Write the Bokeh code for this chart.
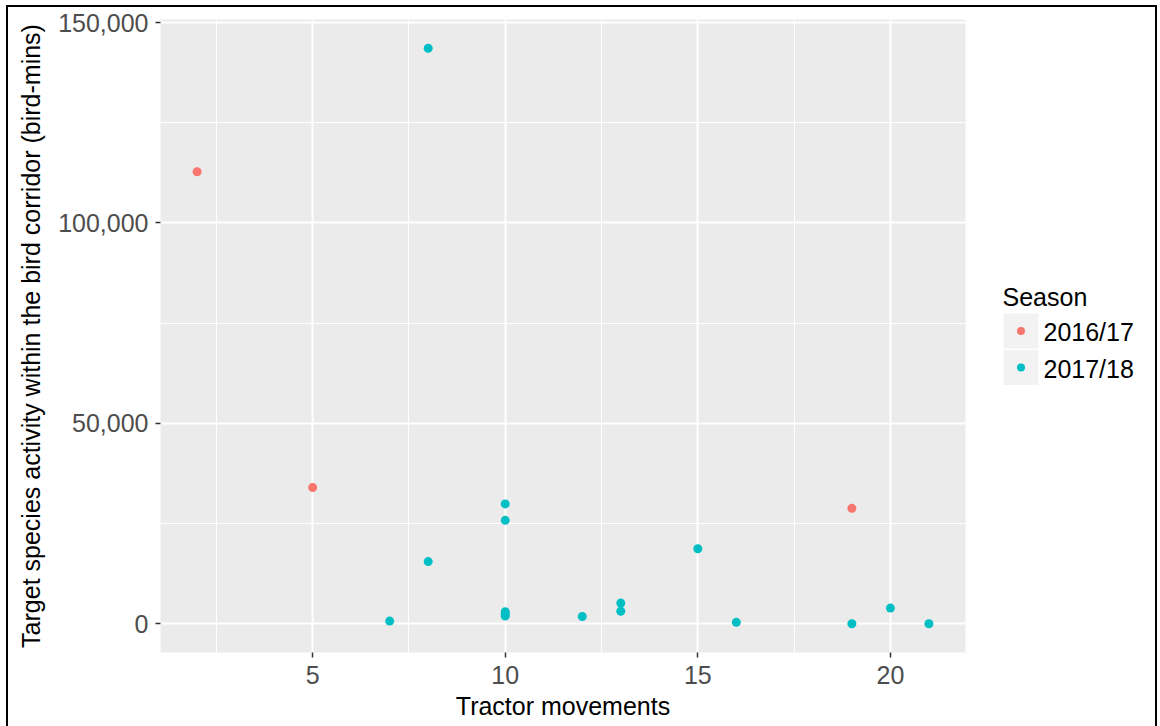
from bokeh.plotting import figure
from bokeh.models import Range1d, FixedTicker, NumeralTickFormatter
from bokeh.layouts import row
from bokeh.core.properties import value
from bokeh.embed import file_html
from bokeh.resources import INLINE

# ---- data -------------------------------------------------------------
seasons = ["2016/17", "2017/18"]
season_colors = ["#F8766D", "#00BFC4"]

tractor_2016 = [2, 5, 19]
activity_2016 = [112800, 34000, 28800]

tractor_2017 = [8, 8, 7, 10, 10, 10, 10, 10, 12, 13, 13, 15, 16, 19, 20, 21]
activity_2017 = [143600, 15500, 650, 29900, 25800, 3000, 2500, 1900,
                 1800, 5150, 3100, 18700, 350, 0, 3900, 0]

x_ticks = [5, 10, 15, 20]
x_minor = [2.5, 7.5, 12.5, 17.5]
y_ticks = [0, 50000, 100000, 150000]
y_minor = [25000, 75000, 125000]

x_title = "Tractor movements"
y_title = "Target species activity within the bird corridor (bird-mins)"
legend_title = "Season"

# ---- ranges (ggplot-like 5% expansion) -------------------------------
all_x = tractor_2016 + tractor_2017
all_y = activity_2016 + activity_2017
dx = (max(all_x) - min(all_x)) * 0.05
dy = (max(all_y) - min(all_y)) * 0.05

FONT = "Liberation Sans"
TOP, FH, BOTTOM = 12, 633, 74
LEFT, FW, RIGHT = 152, 805, 23
LW = 167
LH = TOP + FH + BOTTOM

p = figure(
    frame_width=FW, frame_height=FH,
    x_range=Range1d(min(all_x) - dx, max(all_x) + dx),
    y_range=Range1d(min(all_y) - dy, max(all_y) + dy),
    output_backend="svg", toolbar_location=None,
    min_border_left=LEFT, min_border_top=TOP, min_border_right=RIGHT,
    min_border_bottom=BOTTOM,
)
p.title.visible = False
p.background_fill_color = "#EBEBEB"
p.border_fill_color = "white"
p.outline_line_color = None

p.xaxis.ticker = FixedTicker(ticks=x_ticks, minor_ticks=x_minor)
p.yaxis.ticker = FixedTicker(ticks=y_ticks, minor_ticks=y_minor)
p.yaxis.formatter = NumeralTickFormatter(format="0,0")

for ax in (p.xaxis, p.yaxis):
    ax.axis_line_color = None
    ax.major_tick_line_color = "#333333"
    ax.major_tick_line_width = 1.5
    ax.major_tick_out = 5
    ax.major_tick_in = 0
    ax.minor_tick_line_color = None
    ax.major_label_text_font = FONT
    ax.major_label_text_font_size = "25px"
    ax.major_label_text_color = "#4D4D4D"
    ax.axis_label_text_font = FONT
    ax.axis_label_text_font_size = "25px"
    ax.axis_label_text_color = "black"
    ax.axis_label_text_font_style = "normal"

p.xaxis.axis_label = x_title
p.yaxis.axis_label = y_title
p.xaxis.major_label_standoff = 8
p.xaxis.axis_label_standoff = 5
p.yaxis.major_label_standoff = 7
p.yaxis.axis_label_standoff = 10

for g in (p.xgrid, p.ygrid):
    g.grid_line_color = "white"
    g.grid_line_width = 2
    g.minor_grid_line_color = "white"
    g.minor_grid_line_width = 1

p.scatter(tractor_2016, activity_2016, size=9, color=season_colors[0], line_color=None)
p.scatter(tractor_2017, activity_2017, size=9, color=season_colors[1], line_color=None)

# ---- legend panel -----------------------------------------------------
leg = figure(frame_width=LW, frame_height=LH, x_range=Range1d(0, LW), y_range=Range1d(LH, 0),
             x_axis_type=None, y_axis_type=None, output_backend="svg",
             toolbar_location=None, min_border=0)
leg.title.visible = False
leg.outline_line_color = None
leg.grid.visible = False
leg.background_fill_color = "white"
leg.border_fill_color = "white"

key_x = 32.5
key_size = 35
key_top = 294
key_step = 36.5
key_y = [key_top + key_size / 2 + i * key_step for i in range(len(seasons))]

leg.rect(x=[key_x] * len(seasons), y=key_y, width=key_size, height=key_size,
         fill_color="#F2F2F2", line_color=None)
leg.scatter(x=[key_x] * len(seasons), y=key_y, size=8, color=season_colors, line_color=None)
leg.text(x=[key_x + key_size / 2 + 5] * len(seasons), y=[yy + 1 for yy in key_y], text=seasons,
         text_font=value(FONT), text_font_size="25px", text_color="black",
         text_baseline="middle", text_align="left")
leg.text(x=[14], y=[277], text=[legend_title],
         text_font=value(FONT), text_font_size="25px", text_color="black",
         text_baseline="middle", text_align="left")

layout = row(p, leg, styles={"border-top": "2px solid black",
                             "border-left": "2px solid black",
                             "border-right": "2px solid black",
                             "margin-left": "6px", "margin-top": "5px"})

open("out.html", "w").write(file_html(layout, INLINE))
